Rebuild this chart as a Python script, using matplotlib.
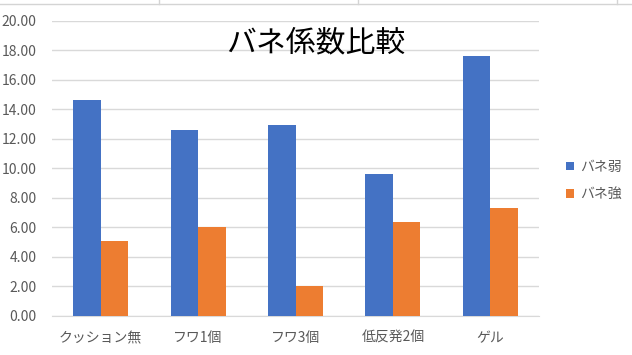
import matplotlib

matplotlib.use("Agg")

import matplotlib.pyplot as plt
import numpy as np
from matplotlib.lines import Line2D

plt.rcParams["font.family"] = ["Noto Sans CJK JP", "DejaVu Sans"]

categories = ["クッション無", "フワ1個", "フワ3個", "低反発2個", "ゲル"]
weak = [14.64, 12.61, 12.95, 9.63, 17.63]
strong = [5.04, 6.01, 2.01, 6.33, 7.32]
series_names = ["バネ弱", "バネ強"]
title = "バネ係数比較"

BLUE = "#4472C4"
ORANGE = "#ED7D31"
GRID = "#D9D9D9"
TEXT = "#595959"

W, H = 632, 355
fig = plt.figure(figsize=(W / 100, H / 100), dpi=100)
ax = fig.add_axes([52 / W, 1 - 315.7 / H, 487 / W, 294.7 / H])

x = np.arange(len(categories))
w = 0.282
ax.bar(x - w / 2, weak, w, color=BLUE, label=series_names[0], zorder=3)
ax.bar(x + w / 2, strong, w, color=ORANGE, label=series_names[1], zorder=3)

ax.set_xlim(-0.5, len(categories) - 0.5)
ax.set_ylim(0, 20)
yticks = np.arange(0, 21, 2)
ax.set_yticks(yticks)
ax.set_yticklabels([f"{v:.2f}" for v in yticks])
ax.set_xticks(x)
ax.set_xticklabels(categories)
ax.grid(axis="y", color=GRID, linewidth=1, zorder=0)
for side in ("top", "right", "left"):
    ax.spines[side].set_visible(False)
ax.spines["bottom"].set_color(GRID)
ax.tick_params(axis="both", length=0, colors=TEXT, labelsize=10)
ax.tick_params(axis="x", pad=11)
ax.tick_params(axis="y", pad=11)

fig.text(316 / W, 1 - 43 / H, title, ha="center", va="center",
         fontsize=21.5, color="#000000")

fig.legend(loc="center left", bbox_to_anchor=(566 / W, 1 - 180.5 / H),
           frameon=False, fontsize=10, labelcolor=TEXT, handlelength=0.6,
           handleheight=0.6, handletextpad=0.4, labelspacing=0.95,
           borderpad=0, borderaxespad=0)

# spreadsheet cell borders peeking in at the top
fig.add_artist(Line2D([0, 1], [1 - 3.5 / H] * 2, color="#D4D4D4", linewidth=1))
for px in (159, 358, 617):
    fig.add_artist(Line2D([px / W] * 2, [1 - 3.5 / H, 1], color="#D4D4D4", linewidth=1))

fig.savefig("out.png", dpi=100)
